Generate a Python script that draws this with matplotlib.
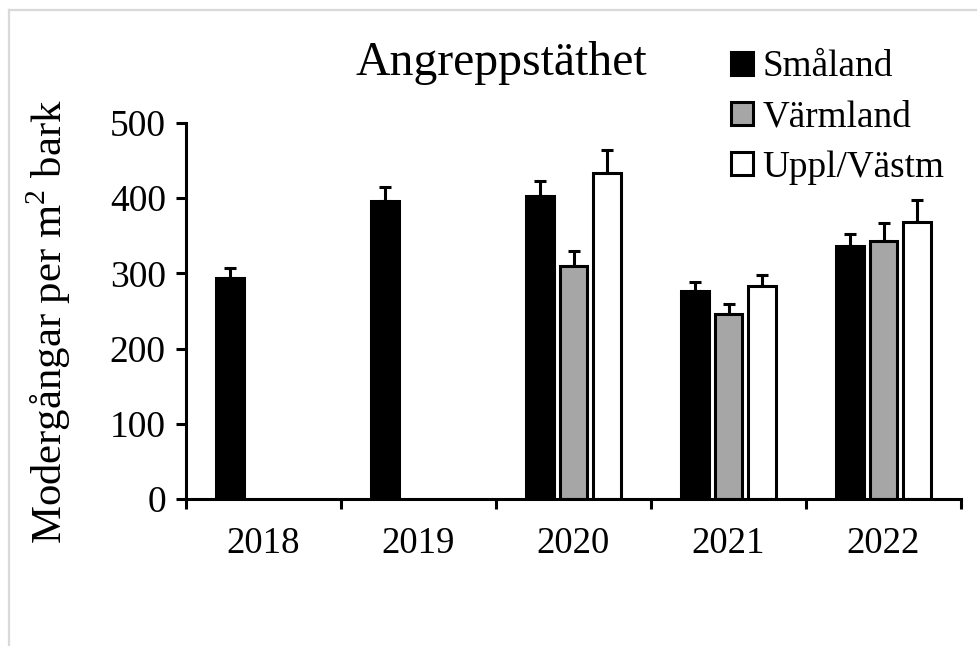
import numpy as np
import matplotlib
matplotlib.use("Agg")
import matplotlib.pyplot as plt
from matplotlib.lines import Line2D

# Data
years = ["2018", "2019", "2020", "2021", "2022"]
regions = ["Småland", "Värmland", "Uppl/Västm"]
smaland = [294, 396, 403, 277, 337]
smaland_err = [13, 19, 20, 11, 16]
varmland = [np.nan, np.nan, 310, 246, 343]
varmland_err = [np.nan, np.nan, 20, 13, 24]
uppl = [np.nan, np.nan, 433, 283, 368]
uppl_err = [np.nan, np.nan, 31, 15, 29]
yticks = [0, 100, 200, 300, 400, 500]

plt.rcParams['font.family'] = ['Liberation Serif', 'DejaVu Serif']
plt.rcParams['mathtext.fontset'] = 'custom'
plt.rcParams['mathtext.rm'] = 'Liberation Serif'

fig = plt.figure(figsize=(9.78, 6.46), dpi=100)
ax = fig.add_axes([186 / 978, 1 - 499 / 646, 775 / 978, 376 / 646])

centers = np.arange(len(years)) + 0.5
offset = 0.219
width = 0.18
series = [(smaland, smaland_err, 'black'),
          (varmland, varmland_err, '#a6a6a6'),
          (uppl, uppl_err, 'white')]
handles = []
for i, (vals, errs, col) in enumerate(series):
    xs = centers + (i - 1) * offset
    vals = np.array(vals, dtype=float)
    errs = np.array(errs, dtype=float)
    b = ax.bar(xs, vals, width, color=col, edgecolor='black', linewidth=2.2, zorder=2)
    handles.append(b)
    ax.errorbar(xs, vals, yerr=[np.zeros_like(errs), errs], fmt='none',
                ecolor='black', elinewidth=2.2, capsize=4.5, capthick=2.2, zorder=1)

ax.set_xlim(0, 5)
ax.set_ylim(0, 500)
ax.set_yticks(yticks)
ax.set_xticks(np.arange(0, 6))
ax.set_xticklabels([])
ax.set_xticks(centers, minor=True)
ax.set_xticklabels(years, minor=True)
ax.tick_params(axis='x', which='major', direction='out', length=7.5, width=2.2, color='black')
ax.tick_params(axis='x', which='minor', length=0, pad=20, labelsize=26.5)
ax.tick_params(axis='y', direction='out', length=7.5, width=2.2, pad=7, labelsize=27)

for s in ['top', 'right']:
    ax.spines[s].set_visible(False)
for s in ['left', 'bottom']:
    ax.spines[s].set_linewidth(2.2)
    ax.spines[s].set_color('black')
    ax.spines[s].set_zorder(3)

fig.text(501 / 978, 1 - 75 / 646, "Angreppstäthet", ha='center', va='baseline', fontsize=34.4)
fig.text(49 / 978, 1 - 322 / 646, "Modergångar per m$^2$ bark", rotation=90,
         ha='center', va='center', fontsize=30.8)

leg = fig.legend(handles, regions, loc='upper left', bbox_to_anchor=(731 / 978, 1 - 50 / 646),
                 frameon=False, fontsize=26.8, handlelength=0.6, handleheight=0.6,
                 handletextpad=0.25, labelspacing=0.42, borderpad=0, borderaxespad=0)

# light gray chart border (cropped at right and bottom)
fig.add_artist(Line2D([8.5 / 978, 8.5 / 978], [0, 1 - 10 / 646], color='#d9d9d9', lw=1.6,
                      transform=fig.transFigure))
fig.add_artist(Line2D([8.5 / 978, 1], [1 - 10 / 646, 1 - 10 / 646], color='#d9d9d9', lw=1.6,
                      transform=fig.transFigure))

fig.savefig("out.png", dpi=100, facecolor='white')
